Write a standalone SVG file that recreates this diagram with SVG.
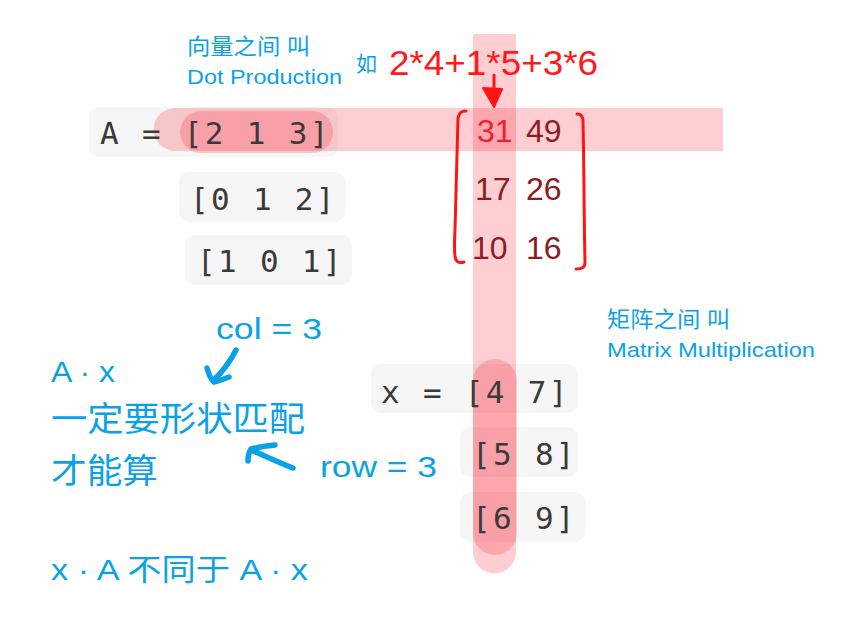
<svg xmlns="http://www.w3.org/2000/svg" width="844" height="618" viewBox="0 0 844 618">
  <style>
    .box { fill: #f6f6f6; }
    .hl { fill: #ff0a1e; fill-opacity: 0.2; }
    .mono { font-family: "DejaVu Sans Mono", "Liberation Mono", monospace; font-size: 31px; letter-spacing: 2.3px; fill: #3a3a3a; }
    .blue { font-family: "Liberation Sans", "Noto Sans CJK SC", sans-serif; fill: #0aa2e6; }
    .res { font-family: "Liberation Sans", sans-serif; font-size: 32px; fill: #8c1c24; }
    .redtxt { font-family: "Liberation Sans", sans-serif; fill: #ff1a1a; }
    .pen { fill: none; stroke: #0aa2e6; stroke-width: 5.5; stroke-linecap: round; stroke-linejoin: round; }
    .rpen { fill: none; stroke: #ff1414; stroke-width: 3; stroke-linecap: round; stroke-linejoin: round; }
  </style>
  <rect width="844" height="618" fill="#ffffff"/>

  <!-- code boxes -->
  <g id="boxes">
    <rect class="box" x="89" y="107" width="249" height="50" rx="10"/>
    <rect class="box" x="179" y="172" width="166" height="50" rx="10"/>
    <rect class="box" x="185" y="235" width="167" height="50" rx="10"/>
    <rect class="box" x="371" y="364" width="207" height="49" rx="10"/>
    <rect class="box" x="460" y="427" width="118" height="50" rx="10"/>
    <rect class="box" x="460" y="492" width="125" height="50" rx="10"/>
  </g>

  <!-- highlighter overlays -->
  <g id="highlights">
    <path class="hl" d="M175,108 H723 V151 H175 A21.5,21.5 0 0 1 175,108 Z"/>
    <rect class="hl" x="180" y="111" width="153" height="42" rx="21"/>
    <path class="hl" d="M473,34 H516 V552 A21.5,21.5 0 0 1 473,552 Z"/>
    <rect class="hl" x="473" y="359" width="44" height="196" rx="22"/>
  </g>

  <!-- matrix A -->
  <g id="matrixA">
    <text class="mono" x="100" y="144" xml:space="preserve">A = [2 1 3]</text>
    <text class="mono" x="190" y="210" xml:space="preserve">[0 1 2]</text>
    <text class="mono" x="197" y="272" xml:space="preserve">[1 0 1]</text>
  </g>

  <!-- matrix x -->
  <g id="matrixX">
    <text class="mono" x="381" y="403" xml:space="preserve">x = [4 7]</text>
    <text class="mono" x="472" y="465" xml:space="preserve">[5 8]</text>
    <text class="mono" x="472" y="529" xml:space="preserve">[6 9]</text>
  </g>

  <!-- result matrix -->
  <g id="result">
    <path class="rpen" d="M466,111 C461,111 459,113 458,118 C457,150 456,200 455,230 C454,248 454,256 456,260 C458,263 461,263 464,262"/>
    <path class="rpen" d="M577,114 C581,114 583,116 583,121 C584,160 584,220 585,262 C585,267 583,269 576,269"/>
    <text class="res" x="477" y="142" style="fill:#f0202c">31</text>
    <text class="res" x="526" y="142">49</text>
    <text class="res" x="475" y="200">17</text>
    <text class="res" x="526" y="200">26</text>
    <text class="res" x="472" y="259">10</text>
    <text class="res" x="526" y="259">16</text>
  </g>

  <!-- labels -->
  <g id="dotLabel">
    <text class="blue" x="187" y="54" font-size="22" textLength="123" lengthAdjust="spacingAndGlyphs">向量之间 叫</text>
    <text class="blue" x="187" y="84" font-size="21" textLength="155" lengthAdjust="spacingAndGlyphs">Dot Production</text>
  </g>
  <g id="example">
    <text class="blue" x="356" y="71" font-size="21">如</text>
    <text class="redtxt" x="389" y="75" font-size="35" textLength="209" lengthAdjust="spacingAndGlyphs">2*4+1*5+3*6</text>
  </g>
  <g id="matmulLabel">
    <text class="blue" x="607" y="327" font-size="22" textLength="123" lengthAdjust="spacingAndGlyphs">矩阵之间 叫</text>
    <text class="blue" x="607" y="357" font-size="21" textLength="208" lengthAdjust="spacingAndGlyphs">Matrix Multiplication</text>
  </g>
  <g id="notes">
    <text class="blue" x="216" y="339" font-size="30" textLength="106" lengthAdjust="spacingAndGlyphs">col = 3</text>
    <text class="blue" x="51" y="382" font-size="29" textLength="64" lengthAdjust="spacingAndGlyphs">A · x</text>
    <text class="blue" x="51" y="431" font-size="34" textLength="254" lengthAdjust="spacingAndGlyphs">一定要形状匹配</text>
    <text class="blue" x="51" y="483" font-size="34" textLength="107" lengthAdjust="spacingAndGlyphs">才能算</text>
    <text class="blue" x="320" y="477" font-size="30" textLength="117" lengthAdjust="spacingAndGlyphs">row = 3</text>
    <text class="blue" x="51" y="580" font-size="30" textLength="257" lengthAdjust="spacingAndGlyphs">x · A 不同于 A · x</text>
  </g>

  <!-- connectors (hand-drawn arrows) -->
  <g id="connectors">
    <path class="rpen" d="M494,75 C494,85 494,95 494,100"/>
    <path d="M483,88 L502,89 L494,107 Z" fill="#ff1414" stroke="#ff1414" stroke-width="2" stroke-linejoin="round"/>
    <path class="pen" d="M236,350 C230,362 222,372 214,380"/>
    <path class="pen" d="M207,368 C209,374 210,379 214,382 C219,381 224,379 229,377"/>
    <path class="pen" d="M293,468 C280,463 265,456 251,450"/>
    <path class="pen" d="M248,461 C248,456 249,452 251,449 C258,447 266,446 275,445"/>
  </g>
</svg>
